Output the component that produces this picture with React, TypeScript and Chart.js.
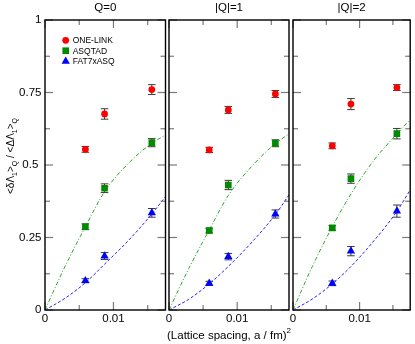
import React, { useEffect, useRef } from 'react';
import { Chart, registerables } from 'chart.js';

Chart.register(...registerables);

// ---------- data ----------
const panelTitles = ['Q=0', '|Q|=1', '|Q|=2'];
const seriesNames = ['ONE-LINK', 'ASQTAD', 'FAT7xASQ'];

const xTickValues = [0, 0.005, 0.01, 0.015];
const xTickLabels = ['0', '', '0.01', ''];
const yTickValues = [0, 0.125, 0.25, 0.375, 0.5, 0.625, 0.75, 0.875, 1];
const yTickLabels = ['0', '', '0.25', '', '0.5 ', '', '0.75', '', '1'];
const xMax = 0.0176;

const latticeA2 = [0.0059, 0.0087, 0.0156];

const oneLinkQ0 = [0.554, 0.676, 0.760];
const oneLinkQ0Err = [0.010, 0.018, 0.017];
const asqtadQ0 = [0.287, 0.420, 0.577];
const asqtadQ0Err = [0.010, 0.015, 0.014];
const fat7Q0 = [0.101, 0.186, 0.335];
const fat7Q0Err = [0.007, 0.012, 0.015];

const oneLinkQ1 = [0.552, 0.690, 0.745];
const oneLinkQ1Err = [0.009, 0.012, 0.012];
const asqtadQ1 = [0.274, 0.431, 0.575];
const asqtadQ1Err = [0.008, 0.016, 0.012];
const fat7Q1 = [0.092, 0.184, 0.331];
const fat7Q1Err = [0.007, 0.011, 0.014];

const oneLinkQ2 = [0.566, 0.710, 0.767];
const oneLinkQ2Err = [0.010, 0.019, 0.010];
const asqtadQ2 = [0.283, 0.453, 0.608];
const asqtadQ2Err = [0.008, 0.016, 0.018];
const fat7Q2 = [0.092, 0.203, 0.341];
const fat7Q2Err = [0.008, 0.016, 0.021];

const fitX = [0, 0.0029, 0.0059, 0.0087, 0.0122, 0.0156, 0.0176];
const asqtadFitQ0 = [0, 0.149, 0.287, 0.408, 0.506, 0.575, 0.603];
const fat7FitQ0 = [0, 0.040, 0.094, 0.158, 0.240, 0.331, 0.391];
const asqtadFitQ1 = [0, 0.143, 0.276, 0.395, 0.497, 0.574, 0.607];
const fat7FitQ1 = [0, 0.037, 0.090, 0.150, 0.235, 0.329, 0.397];
const asqtadFitQ2 = [0, 0.150, 0.287, 0.400, 0.518, 0.607, 0.657];
const fat7FitQ2 = [0, 0.038, 0.090, 0.150, 0.240, 0.340, 0.414];

const panelData = [
  { one: oneLinkQ0, oneErr: oneLinkQ0Err, asq: asqtadQ0, asqErr: asqtadQ0Err, fat: fat7Q0, fatErr: fat7Q0Err, asqFit: asqtadFitQ0, fatFit: fat7FitQ0 },
  { one: oneLinkQ1, oneErr: oneLinkQ1Err, asq: asqtadQ1, asqErr: asqtadQ1Err, fat: fat7Q1, fatErr: fat7Q1Err, asqFit: asqtadFitQ1, fatFit: fat7FitQ1 },
  { one: oneLinkQ2, oneErr: oneLinkQ2Err, asq: asqtadQ2, asqErr: asqtadQ2Err, fat: fat7Q2, fatErr: fat7Q2Err, asqFit: asqtadFitQ2, fatFit: fat7FitQ2 },
];

// ---------- layout / style ----------
const W = 415;
const H = 344;
const PLOT_TOP = 20;
const PLOT_BOTTOM = 310;
const panels = [
  { left: 45, right: 165.5 },
  { left: 169, right: 289 },
  { left: 293, right: 413.5 },
];
const FONT = "'Liberation Sans', Arial, Helvetica, sans-serif";
const RED = '#ff0000';
const GREEN = '#008a00';
const BLUE = '#0000ff';

const pts = (xs: number[], ys: number[]) => xs.map((x, i) => ({ x, y: ys[i] }));

const errorBarPlugin = {
  id: 'errorBars',
  beforeDatasetsDraw(chart: any) {
    const { ctx, scales } = chart;
    ctx.save();
    ctx.strokeStyle = '#3a3a3a';
    ctx.lineWidth = 1;
    chart.data.datasets.forEach((ds: any) => {
      if (!ds.errors) return;
      ds.data.forEach((p: any, j: number) => {
        const e = ds.errors[j];
        const px = scales.x.getPixelForValue(p.x);
        const y1 = scales.y.getPixelForValue(p.y - e);
        const y2 = scales.y.getPixelForValue(p.y + e);
        const cap = 3.8;
        ctx.beginPath();
        ctx.moveTo(px, y1);
        ctx.lineTo(px, y2);
        ctx.moveTo(px - cap, y1);
        ctx.lineTo(px + cap, y1);
        ctx.moveTo(px - cap, y2);
        ctx.lineTo(px + cap, y2);
        ctx.stroke();
      });
    });
    ctx.restore();
  },
};

const framePlugin = {
  id: 'frame',
  afterDraw(chart: any) {
    const { ctx, chartArea: a, scales } = chart;
    ctx.save();
    ctx.strokeStyle = '#7a7a7a';
    ctx.lineWidth = 1.2;
    const seg = (x1: number, y1: number, x2: number, y2: number) => {
      ctx.beginPath();
      ctx.moveTo(x1, y1);
      ctx.lineTo(x2, y2);
      ctx.stroke();
    };
    scales.x.ticks.forEach((t: any) => {
      const px = scales.x.getPixelForValue(t.value);
      const idx = xTickValues.indexOf(t.value);
      const len = xTickLabels[idx] !== '' ? 8 : 5;
      seg(px, a.bottom, px, a.bottom - len);
      seg(px, a.top, px, a.top + len);
    });
    scales.y.ticks.forEach((t: any) => {
      const py = scales.y.getPixelForValue(t.value);
      const idx = yTickValues.indexOf(t.value);
      const len = yTickLabels[idx] !== '' ? 8 : 5;
      seg(a.left, py, a.left + len, py);
      seg(a.right, py, a.right - len, py);
    });
    ctx.strokeStyle = '#000';
    ctx.lineWidth = 1.4;
    ctx.strokeRect(a.left, a.top, a.right - a.left, a.bottom - a.top);
    ctx.restore();
  },
};

const legendPlugin = {
  id: 'innerLegend',
  afterDraw(chart: any) {
    const { ctx, chartArea: a } = chart;
    const mx = a.left + 20.7;
    const rows = [a.top + 20.3, a.top + 30.7, a.top + 41.3];
    const colors = [RED, GREEN, BLUE];
    ctx.save();
    rows.forEach((y, i) => {
      ctx.fillStyle = colors[i];
      ctx.beginPath();
      if (i === 0) {
        ctx.arc(mx, y, 3.4, 0, Math.PI * 2);
      } else if (i === 1) {
        ctx.rect(mx - 3.3, y - 3.3, 6.6, 6.6);
      } else {
        const r = 4.8;
        ctx.moveTo(mx, y - r);
        ctx.lineTo(mx + r * Math.sin((2 * Math.PI) / 3), y - r * Math.cos((2 * Math.PI) / 3));
        ctx.lineTo(mx + r * Math.sin((4 * Math.PI) / 3), y - r * Math.cos((4 * Math.PI) / 3));
        ctx.closePath();
      }
      ctx.fill();
      ctx.fillStyle = '#000';
      ctx.font = `8.5px ${FONT}`;
      ctx.textBaseline = 'middle';
      ctx.textAlign = 'left';
      ctx.fillText(seriesNames[i], mx + 7, y + 0.5);
    });
    ctx.restore();
  },
};

const drawRuns = (ctx: any, runs: { t: string; f: number; dy: number }[], startX: number) => {
  let x = startX;
  runs.forEach((r) => {
    ctx.font = `${r.f}px ${FONT}`;
    ctx.fillText(r.t, x, r.dy);
    x += ctx.measureText(r.t).width;
  });
};
const runsWidth = (ctx: any, runs: { t: string; f: number; dy: number }[]) => {
  let w = 0;
  runs.forEach((r) => {
    ctx.font = `${r.f}px ${FONT}`;
    w += ctx.measureText(r.t).width;
  });
  return w;
};

const yTitlePlugin = {
  id: 'yTitle',
  afterDraw(chart: any) {
    const { ctx } = chart;
    const M = 10;
    const S = 7;
    const runs = [
      { t: '<δΛ', f: M, dy: 0 },
      { t: '1', f: S, dy: 3 },
      { t: '>', f: M, dy: 0 },
      { t: 'Q', f: S, dy: 3 },
      { t: ' / <ΔΛ', f: M, dy: 0 },
      { t: '1', f: S, dy: 3 },
      { t: '>', f: M, dy: 0 },
      { t: 'Q', f: S, dy: 3 },
    ];
    ctx.save();
    ctx.translate(13.5, 156);
    ctx.rotate(-Math.PI / 2);
    ctx.fillStyle = '#000';
    ctx.textBaseline = 'alphabetic';
    ctx.textAlign = 'left';
    const w = runsWidth(ctx, runs);
    drawRuns(ctx, runs, -w / 2);
    ctx.restore();
  },
};

const xTitlePlugin = {
  id: 'xTitle',
  afterDraw(chart: any) {
    const { ctx, chartArea: a } = chart;
    const runs = [
      { t: '(Lattice spacing, a / fm)', f: 11.5, dy: 339 },
      { t: '2', f: 8, dy: 333 },
    ];
    ctx.save();
    ctx.fillStyle = '#000';
    ctx.textBaseline = 'alphabetic';
    ctx.textAlign = 'left';
    const w = runsWidth(ctx, runs);
    drawRuns(ctx, runs, (a.left + a.right) / 2 - w / 2);
    ctx.restore();
  },
};

function makeConfig(i: number): any {
  const p = panels[i];
  const d = panelData[i];
  const plugins: any[] = [errorBarPlugin, framePlugin];
  if (i === 0) plugins.push(legendPlugin, yTitlePlugin);
  if (i === 1) plugins.push(xTitlePlugin);
  return {
    type: 'scatter',
    data: {
      datasets: [
        {
          label: seriesNames[0],
          data: pts(latticeA2, d.one),
          errors: d.oneErr,
          pointStyle: 'circle',
          pointRadius: 3.4,
          backgroundColor: RED,
          borderColor: RED,
          borderWidth: 0,
        },
        {
          label: seriesNames[1],
          data: pts(latticeA2, d.asq),
          errors: d.asqErr,
          pointStyle: 'rect',
          pointRadius: 4.7,
          backgroundColor: GREEN,
          borderColor: GREEN,
          borderWidth: 0,
        },
        {
          label: seriesNames[2],
          data: pts(latticeA2, d.fat),
          errors: d.fatErr,
          pointStyle: 'triangle',
          pointRadius: 4.8,
          backgroundColor: BLUE,
          borderColor: BLUE,
          borderWidth: 0,
        },
        {
          label: 'ASQTAD fit',
          data: pts(fitX, d.asqFit),
          showLine: true,
          pointRadius: 0,
          borderColor: '#2aa52a',
          borderWidth: 1,
          borderDash: [4, 2, 1, 2],
          cubicInterpolationMode: 'monotone',
          fill: false,
        },
        {
          label: 'FAT7xASQ fit',
          data: pts(fitX, d.fatFit),
          showLine: true,
          pointRadius: 0,
          borderColor: '#2222ff',
          borderWidth: 1,
          borderDash: [3, 2],
          cubicInterpolationMode: 'monotone',
          fill: false,
        },
      ],
    },
    options: {
      animation: false,
      responsive: false,
      events: [],
      layout: { padding: { left: i === 0 ? 0 : p.left, right: W - p.right, top: 0, bottom: 0 } },
      plugins: {
        legend: { display: false },
        tooltip: { enabled: false },
        title: {
          display: true,
          text: panelTitles[i],
          fullSize: false,
          color: '#000',
          font: { family: FONT, size: 11.5, weight: 'normal', lineHeight: 1.2 },
          padding: { top: 1.1, bottom: PLOT_TOP - 1.1 - 13.8 },
        },
      },
      scales: {
        x: {
          type: 'linear',
          min: 0,
          max: xMax,
          afterBuildTicks: (s: any) => {
            s.ticks = xTickValues.map((v) => ({ value: v }));
          },
          afterFit: (s: any) => {
            s.height = H - PLOT_BOTTOM;
          },
          ticks: {
            autoSkip: false,
            maxRotation: 0,
            padding: 1.5,
            color: '#000',
            font: { family: FONT, size: 11.5 },
            callback: (v: number) => xTickLabels[xTickValues.indexOf(v)] ?? '',
          },
          grid: { display: false, drawTicks: false },
          border: { display: false },
        },
        y: {
          type: 'linear',
          min: 0,
          max: 1,
          afterBuildTicks: (s: any) => {
            s.ticks = yTickValues.map((v) => ({ value: v }));
          },
          afterFit: (s: any) => {
            s.width = i === 0 ? p.left : 0;
          },
          ticks: {
            display: i === 0,
            autoSkip: false,
            padding: 3.5,
            color: '#000',
            font: { family: FONT, size: 11.5 },
            callback: (v: number) => yTickLabels[yTickValues.indexOf(v)] ?? '',
          },
          grid: { display: false, drawTicks: false },
          border: { display: false },
        },
      },
    },
    plugins,
  };
}

function Panel({ index }: { index: number }) {
  const ref = useRef<HTMLCanvasElement | null>(null);
  useEffect(() => {
    if (!ref.current) return;
    const chart = new Chart(ref.current, makeConfig(index));
    return () => chart.destroy();
  }, [index]);
  return (
    <canvas
      ref={ref}
      width={W}
      height={H}
      style={{ position: 'absolute', left: 0, top: 0, width: W, height: H }}
    />
  );
}

export default function App() {
  return (
    <div style={{ position: 'absolute', left: 0, top: 0, width: W, height: H, background: '#fff' }}>
      <Panel index={0} />
      <Panel index={1} />
      <Panel index={2} />
    </div>
  );
}
